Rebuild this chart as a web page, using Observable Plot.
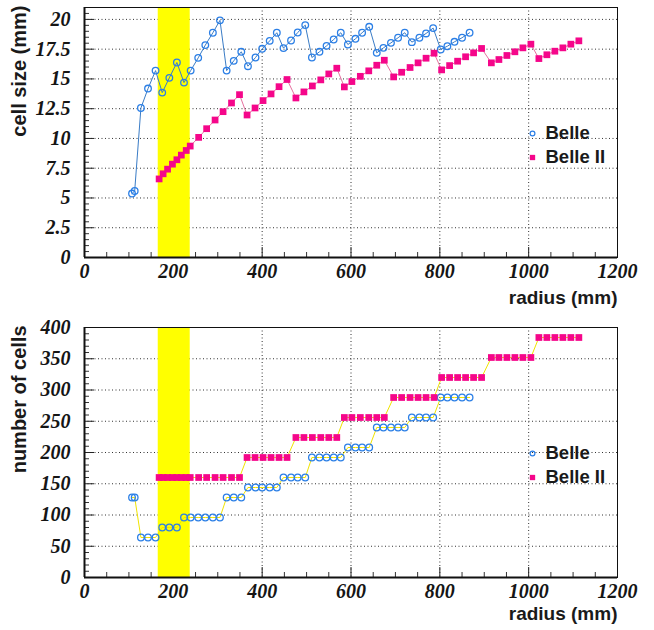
<!DOCTYPE html>
<html><head><meta charset="utf-8">
<script src="https://cdn.jsdelivr.net/npm/d3@7"></script>
<script src="https://cdn.jsdelivr.net/npm/@observablehq/plot@0.6"></script>
<style>
html,body{margin:0;padding:0;background:#fff;}
#chart{width:654px;}
#chart svg{display:block;}
</style></head><body><div id="chart"></div>
<script>
// ---- data ----
const belleRadius = [107,113,127,143,160,175,191,208,224,239,256,272,289,305,320,336,353,368,385,400,417,433,448,465,480,497,512,529,545,561,577,593,610,625,641,658,673,690,706,721,737,754,769,785,802,817,833,850,867];
const belleCellSize = [5.37,5.59,12.56,14.19,15.70,13.85,15.09,16.38,14.69,15.70,16.77,17.84,18.88,19.92,15.70,16.52,17.28,16.07,16.80,17.53,18.20,18.88,17.59,18.23,18.90,19.52,16.80,17.28,17.78,18.31,18.88,17.89,18.37,18.88,19.38,17.19,17.61,18.03,18.46,18.88,18.09,18.46,18.82,19.27,17.47,17.75,18.12,18.46,18.88];
const belleCells = [128,128,64,64,64,80,80,80,96,96,96,96,96,96,128,128,128,144,144,144,144,144,160,160,160,160,192,192,192,192,192,208,208,208,208,240,240,240,240,240,256,256,256,256,288,288,288,288,288];

const belle2Radius = [168,177,187,198,208,218,229,238,257,275,294,312,331,349,366,384,402,420,438,456,476,494,513,532,550,568,585,602,621,640,658,675,696,714,733,751,769,787,804,822,840,858,876,894,916,933,951,969,987,1005,1023,1041,1059,1077,1095,1113];
const belle2CellSize = [6.60,7.03,7.42,7.84,8.21,8.60,8.99,9.36,10.09,10.82,11.55,12.25,12.98,13.68,11.97,12.56,13.18,13.74,14.35,14.95,13.40,13.91,14.41,14.92,15.42,15.90,14.33,14.78,15.22,15.68,16.15,16.57,15.17,15.56,15.96,16.35,16.74,17.16,15.76,16.12,16.49,16.86,17.19,17.56,16.35,16.63,16.97,17.28,17.61,17.92,16.71,17.03,17.33,17.61,17.92,18.20];
const belle2Cells = [160,160,160,160,160,160,160,160,160,160,160,160,160,160,192,192,192,192,192,192,224,224,224,224,224,224,256,256,256,256,256,256,288,288,288,288,288,288,320,320,320,320,320,320,352,352,352,352,352,352,384,384,384,384,384,384];

const seriesNames = ["Belle", "Belle II"];
const band = [[166, 238]];           // highlighted radius range (mm)
const xTicks = [0,200,400,600,800,1000,1200];
const xMinor = [50,100,150,250,300,350,450,500,550,650,700,750,850,900,950,1050,1100,1150];
const sizeTicks = [0,2.5,5,7.5,10,12.5,15,17.5,20];
const cellTicks = [0,50,100,150,200,250,300,350,400];

const belle = belleRadius.map((r, i) => ({r, size: belleCellSize[i], cells: belleCells[i]}));
const belle2 = belle2Radius.map((r, i) => ({r, size: belle2CellSize[i], cells: belle2Cells[i]}));

// ---- styling ----
const W = 654, H = 315, ML = 84, MR = 37;
const blue = "#2b7fe6", pink = "#f5068a";
const sansFont = '"Liberation Sans", Arial, sans-serif';
const serifFont = '"Liberation Serif"';
const tickFont = {fontFamily: serifFont, fontStyle: "italic", fontWeight: "bold", fontSize: 20};
const titleFont = {fontFamily: sansFont, fontStyle: "normal", fontWeight: "bold", fill: "#1a1a1a"};

function minorBetween(ticks, step) {
  const out = [];
  for (let i = 0; i < ticks.length - 1; i++) {
    for (let k = 1; k < 5; k++) out.push(ticks[i] + k * step);
  }
  return out;
}

function panel(o) {
  const fw = W - ML - MR, fh = H - o.mt - o.mb;
  const yMinor = minorBetween(o.yTicks, (o.yTicks[1] - o.yTicks[0]) / 5).concat(o.extraMinor || []);
  const svg = Plot.plot({
    width: W, height: H,
    marginLeft: ML, marginRight: MR, marginTop: o.mt, marginBottom: o.mb,
    x: {domain: [0, 1200], label: null},
    y: {domain: o.yDomain, label: null},
    marks: [
      Plot.gridX(xTicks.slice(1, -1), {stroke: "#333", strokeOpacity: 1, strokeDasharray: "1,2.5"}),
      Plot.gridY(o.yTicks.slice(1), {stroke: "#333", strokeOpacity: 1, strokeDasharray: "1,2.5"}),
      Plot.tickX(xMinor, {x: d => d, insetTop: fh - 5, stroke: "#333"}),
      Plot.tickX(xTicks, {x: d => d, insetTop: fh - 10, stroke: "#222"}),
      Plot.tickY(yMinor, {y: d => d, insetRight: fw - 5, stroke: "#333"}),
      Plot.tickY(o.yTicks, {y: d => d, insetRight: fw - 10, stroke: "#222"}),
      Plot.rect(band, {x1: d => d[0], x2: d => d[1], fill: "#ffff00"}),
      Plot.frame({stroke: "#111", strokeWidth: 1}),
      Plot.ruleX([0], {stroke: "#111", strokeWidth: 2}),
      Plot.ruleY([o.yDomain[0]], {stroke: "#111", strokeWidth: 2}),
      Plot.axisX(xTicks, {tickSize: 0, tickPadding: 6, tickFormat: d => String(d), label: null, ...tickFont}),
      Plot.axisY(o.yTicks, {tickSize: 0, tickPadding: 14, tickFormat: d => String(d), label: null, ...tickFont}),
      Plot.line(belle, {x: "r", y: o.key, stroke: o.belleLine, strokeWidth: 1}),
      Plot.line(belle2, {x: "r", y: o.key, stroke: o.belle2Line, strokeWidth: 1}),
      Plot.dot(belle, {x: "r", y: o.key, r: 3.3, stroke: blue, strokeWidth: 1.3, fill: "none"}),
      Plot.dot(belle2, {x: "r", y: o.key, symbol: "square", r: 3.8, fill: pink, stroke: null}),
      // legend
      Plot.dot([seriesNames[0]], {frameAnchor: "top-left", dx: 448, dy: 126, r: 2.4, stroke: blue, strokeWidth: 1.2, fill: "none"}),
      Plot.dot([seriesNames[1]], {frameAnchor: "top-left", dx: 448, dy: 150, symbol: "square", r: 3, fill: pink, stroke: null}),
      Plot.text([seriesNames[0]], {frameAnchor: "top-left", dx: 461, dy: 126, text: d => d, textAnchor: "start", lineAnchor: "middle", ...titleFont, fontSize: 18.5}),
      Plot.text([seriesNames[1]], {frameAnchor: "top-left", dx: 461, dy: 150, text: d => d, textAnchor: "start", lineAnchor: "middle", ...titleFont, fontSize: 18.5}),
      // axis titles
      Plot.text([o.yLabel], {frameAnchor: "top-left", dx: -65, dy: -2, rotate: -90, text: d => d, textAnchor: "end", lineAnchor: "middle", ...titleFont, fontSize: 20}),
      Plot.text(["radius (mm)"], {frameAnchor: "bottom-right", dy: o.xTitleDy, text: d => d, textAnchor: "end", lineAnchor: "middle", ...titleFont, fontSize: 19})
    ]
  });
  svg.style.background = "white";
  d3.select(svg).selectAll('g[aria-label$="axis tick label"] text')
    .style("font-family", "'Liberation Serif'")
    .style("font-style", "italic")
    .style("font-weight", "bold")
    .style("font-size", "20px")
    .style("fill", "#151515");
  return svg;
}

const topPanel = panel({
  key: "size", yDomain: [0, 21], yTicks: sizeTicks, extraMinor: [20.5],
  belleLine: "#3a7cc6", belle2Line: "#e6709f",
  yLabel: "cell size (mm)", mt: 7, mb: 58, xTitleDy: 40
});
const bottomPanel = panel({
  key: "cells", yDomain: [0, 400], yTicks: cellTicks,
  belleLine: "#f0e400", belle2Line: "#f0e400",
  yLabel: "number of cells", mt: 12, mb: 53, xTitleDy: 36
});
const root = document.getElementById("chart");
root.appendChild(topPanel);
root.appendChild(bottomPanel);
</script>
</body></html>
